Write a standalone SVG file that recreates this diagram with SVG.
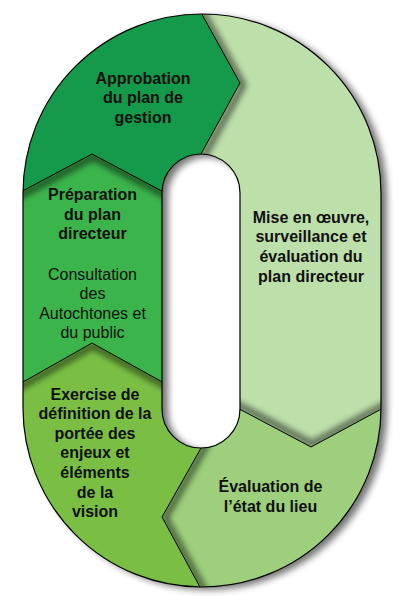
<svg xmlns="http://www.w3.org/2000/svg" width="400" height="596" viewBox="0 0 400 596">
<style>
.t{font-family:"Liberation Sans",Arial,Helvetica,sans-serif;font-size:16px;fill:#111;text-anchor:middle}
.b{font-weight:bold}
.edge{fill:none;stroke:#000;stroke-width:1}
.sh{fill:none;stroke:#000;stroke-width:6;stroke-linejoin:round;opacity:.6}
</style>
<defs>
<path id="ring" fill-rule="evenodd" d="M23,193 A179,179 0 0 1 381,193 V408 A179,179 0 0 1 23,408 Z M162,193 A39,39 0 0 1 240,193 V409 A39,39 0 0 1 162,409 Z"/>
<clipPath id="cRing"><use href="#ring" clip-rule="evenodd"/></clipPath>
<clipPath id="cPrep"><polygon points="0,203 92,154 175,198 175,389 92,343 0,395"/></clipPath>
<clipPath id="cExer"><polygon points="0,395 92,343 175,389 201,448 162,517 207,600 0,600"/></clipPath>
<clipPath id="cEval"><polygon points="201,448 162,517 207,600 400,600 400,399 311,447 228,403"/></clipPath>
<clipPath id="cMiseTop"><polygon points="194,0 400,0 400,400 240,400 201,154 240,83"/></clipPath>
<clipPath id="cMiseBot"><polygon points="228,403 311,447 400,399 400,300 228,300"/></clipPath>
<filter id="blur" filterUnits="userSpaceOnUse" x="-20" y="-20" width="440" height="640"><feGaussianBlur stdDeviation="3"/></filter>
<filter id="blur2" filterUnits="userSpaceOnUse" x="-20" y="-20" width="440" height="640"><feGaussianBlur stdDeviation="3.5"/></filter>
</defs>
<rect width="400" height="596" fill="#fff"/>
<use href="#ring" fill="#000" opacity=".55" filter="url(#blur2)" transform="translate(6,3)"/>
<g clip-path="url(#cRing)">
  <g id="mise"><rect width="400" height="596" fill="#bddfaa"/></g>
  <g id="approbation"><polygon points="0,0 194,0 240,83 201,154 175,198 92,154 0,203" fill="#15994a"/></g>
  <g id="preparation"><polygon points="0,203 92,154 175,198 175,389 92,343 0,395" fill="#3bb44b"/></g>
  <g id="exercise"><polygon points="0,395 92,343 175,389 201,448 162,517 207,600 0,600" fill="#7abf44"/></g>
  <g id="evaluation"><polygon points="201,448 162,517 207,600 400,600 400,399 311,447 228,403" fill="#9dcf7c"/></g>
  <g id="shadows">
    <g clip-path="url(#cPrep)"><polyline class="sh" filter="url(#blur)" transform="translate(1,3)" points="0,203 92,154 175,198"/></g>
    <g clip-path="url(#cMiseTop)"><polyline class="sh" filter="url(#blur)" transform="translate(3,2)" points="194,0 240,83 195,165"/></g>
    <g clip-path="url(#cExer)"><polyline class="sh" filter="url(#blur)" transform="translate(1,3)" points="0,395 92,343 175,389"/></g>
    <g clip-path="url(#cEval)"><polyline class="sh" filter="url(#blur)" transform="translate(3,1)" points="205,441 162,517 207,600"/></g>
    <g clip-path="url(#cMiseBot)"><polyline class="sh" filter="url(#blur)" opacity=".3" transform="translate(1,-3)" points="228,403 311,447 400,399"/></g>
  </g>
  <g id="connectors">
    <polyline class="edge" points="194,0 240,83 195,165"/>
    <polyline class="edge" points="0,203 92,154 175,198"/>
    <polyline class="edge" points="0,395 92,343 175,389"/>
    <polyline class="edge" points="205,441 162,517 207,600"/>
    <polyline class="edge" points="228,403 311,447 400,399"/>
  </g>
</g>
<use href="#ring" fill="none" stroke="#000" stroke-width="1.2"/>
<g id="labels">
  <text class="t b" x="143" y="83.5">Approbation</text>
  <text class="t b" x="143" y="103">du plan de</text>
  <text class="t b" x="143" y="122.5">gestion</text>
  <text class="t b" x="92.5" y="200">Préparation</text>
  <text class="t b" x="92.5" y="219.5">du plan</text>
  <text class="t b" x="92.5" y="239">directeur</text>
  <text class="t" x="92.5" y="279.5">Consultation</text>
  <text class="t" x="92.5" y="299">des</text>
  <text class="t" x="92.5" y="318.5">Autochtones et</text>
  <text class="t" x="92.5" y="338">du public</text>
  <text class="t b" x="95" y="399.5">Exercise de</text>
  <text class="t b" x="95" y="419.1">définition de la</text>
  <text class="t b" x="95" y="438.7">portée des</text>
  <text class="t b" x="95" y="458.3">enjeux et</text>
  <text class="t b" x="95" y="477.9">éléments</text>
  <text class="t b" x="95" y="497.5">de la</text>
  <text class="t b" x="95" y="517.1">vision</text>
  <text class="t b" x="311" y="222.5">Mise en œuvre,</text>
  <text class="t b" x="311" y="242">surveillance et</text>
  <text class="t b" x="311" y="261.8">évaluation du</text>
  <text class="t b" x="311" y="281.5">plan directeur</text>
  <text class="t b" x="270.5" y="491.5">Évaluation de</text>
  <text class="t b" x="270.5" y="511.5">l’état du lieu</text>
</g>
</svg>
